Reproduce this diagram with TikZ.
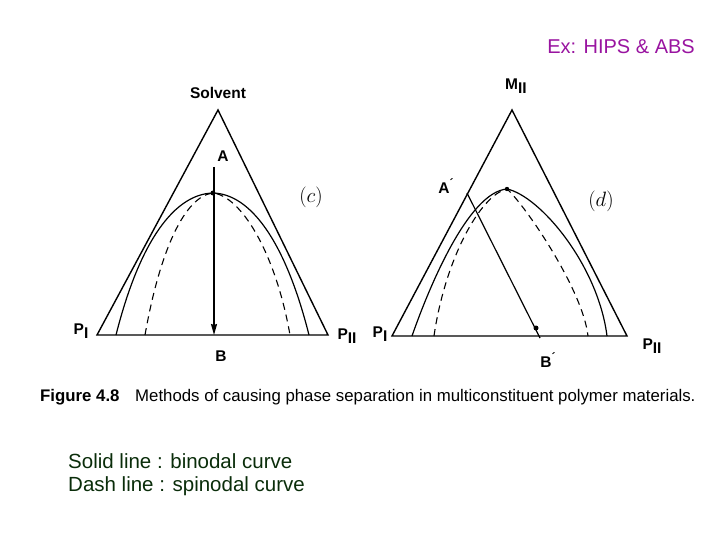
\documentclass[tikz,border=0pt]{standalone}
\usepackage{fontspec}
\setmainfont{Liberation Sans}
\usetikzlibrary{arrows,arrows.meta}
\definecolor{legendgreen}{RGB}{10,45,10}
\definecolor{expurple}{RGB}{153,20,160}

\begin{document}
\begin{tikzpicture}[x=1pt,y=-1pt]
\tikzstyle{every node}=[inner sep=0pt];
\tikzstyle{lbl}=[font=\fontsize{15.5}{17}\selectfont\bfseries];
\tikzstyle{tri}=[line width=1.4pt,line join=miter];
\tikzstyle{binodal}=[line width=1.2pt];
\tikzstyle{spinodal}=[line width=1.1pt,dash pattern=on 7pt off 5pt];
\useasboundingbox (0,0) rectangle (720,540);
\coordinate (ctop) at (218,110);
\coordinate (cl) at (97,335);
\coordinate (cr) at (328,335);
\coordinate (ccrit) at (213,193);
\coordinate (ca) at (214,167);
\coordinate (cb) at (214,335);
\draw[tri] (cl) -- (ctop) -- (cr) -- cycle;
\draw[binodal] (116,335) .. controls (140,240) and (175,194) .. (ccrit)
               .. controls (250,194) and (285,240) .. (309,335);
\draw[spinodal] (145,335) .. controls (160,250) and (185,196) .. (ccrit)
                .. controls (240,196) and (275,250) .. (290,335);
\fill (ccrit) circle (2.5);
\draw[line width=1.5pt,-{Stealth[length=11pt,width=6pt,inset=1pt]}] (ca) -- (cb);
\node[lbl] (solv) at (218,93) {Solvent};
\node[lbl] (la) at (223,156) {A};
\node[lbl] (lb) at (221,356) {B};
\node[lbl] (cpI) at (81,331) {P\raisebox{-4pt}{I}};
\node[lbl] (cpII) at (347,336) {P\raisebox{-4pt}{II}};
\node (lc) at (311,197) {\fontsize{22}{24}\selectfont$(c)$};
\coordinate (dtop) at (512,110);
\coordinate (dl) at (392,336);
\coordinate (dr) at (627,336);
\coordinate (dcrit) at (507,189);
\coordinate (da) at (467,193);
\coordinate (db) at (540,338);
\coordinate (ddot) at (536,328);
\draw[tri] (dl) -- (dtop) -- (dr) -- cycle;
\draw[binodal] (412,336) .. controls (428,290) and (468,192) .. (dcrit)
               .. controls (540,196) and (598,265) .. (607,336);
\draw[spinodal] (434,336) .. controls (445,260) and (480,195) .. (dcrit)
                .. controls (525,205) and (583,290) .. (588,336);
\fill (dcrit) circle (2.2);
\draw[line width=1.2pt] (da) -- (db);
\fill (ddot) circle (2.5);
\node[lbl] (mII) at (516,86) {M\raisebox{-4pt}{II}};
\node[lbl] (la2) at (446,186) {A\raisebox{6pt}{\fontsize{12}{12}\selectfont ´}};
\node[lbl] (lb2) at (548,360) {B\raisebox{6pt}{\fontsize{12}{12}\selectfont ´}};
\node[lbl] (dpI) at (380,334) {P\raisebox{-4pt}{I}};
\node[lbl] (dpII) at (652,346) {P\raisebox{-4pt}{II}};
\node (ld) at (601,201) {\fontsize{22}{24}\selectfont$(d)$};
\node[anchor=west] (fignum) at (40,397) {\fontsize{16.8}{19}\selectfont\textbf{Figure 4.8}};
\node[anchor=west] (figcap) at (135,397) {\fontsize{16.8}{19}\selectfont Methods of causing phase separation in multiconstituent polymer materials.};
\node[anchor=west,text=legendgreen] (solid) at (68,461) {\fontsize{20.5}{24}\selectfont Solid line : binodal curve};
\node[anchor=west,text=legendgreen] (dash) at (68,486) {\fontsize{20.5}{24}\selectfont Dash line : spinodal curve};
\node[anchor=east,text=expurple] (ex) at (695,47) {\fontsize{20}{22}\selectfont Ex: HIPS \& ABS};
\end{tikzpicture}
\end{document}
